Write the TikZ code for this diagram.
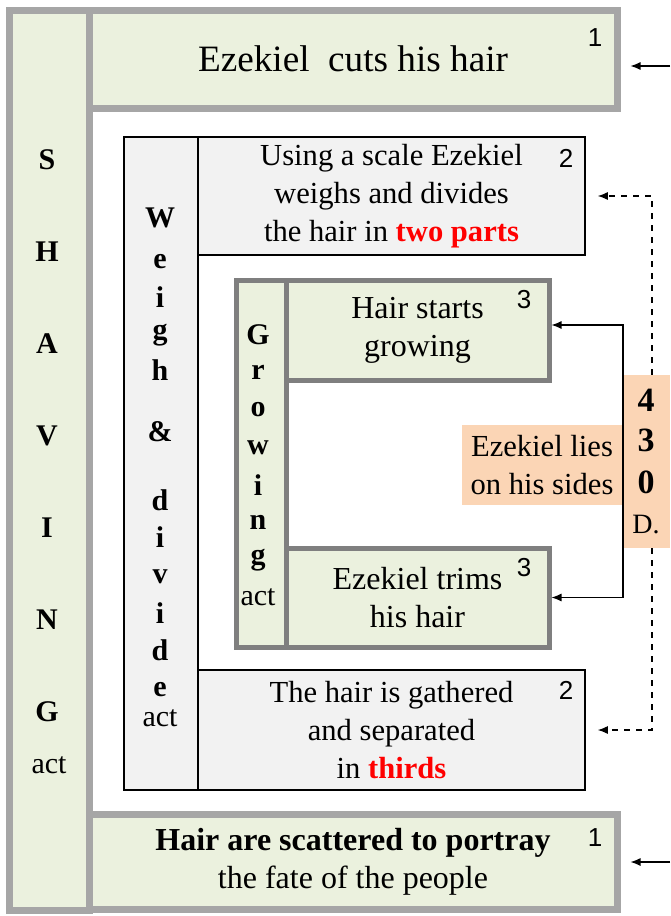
\documentclass[tikz,border=0pt]{standalone}
\usepackage{fontspec}
\setmainfont{Liberation Serif}
\newfontfamily\numfont{Liberation Sans}
\usetikzlibrary{arrows.meta}

\definecolor{actgreen}{HTML}{EBF1DE}
\definecolor{actgray}{HTML}{A6A6A6}
\definecolor{growgray}{HTML}{7F7F7F}
\definecolor{boxgray}{HTML}{F2F2F2}
\definecolor{peach}{HTML}{FBD5B5}
\definecolor{hot}{HTML}{FF0000}

\tikzset{
  outerbox/.style={draw=actgray, fill=actgreen, line width=3.5pt, inner sep=0pt, align=center},
  growbox/.style={draw=growgray, fill=actgreen, line width=2.5pt, inner sep=0pt, align=center},
  weighbox/.style={draw=black, fill=boxgray, line width=0.8pt, inner sep=0pt, align=center},
  txt/.style={font=\fontsize{15.3}{19}\selectfont},
  letter/.style={font=\fontsize{15}{16}\selectfont\bfseries, inner sep=0pt},
  actlbl/.style={font=\fontsize{15}{16}\selectfont, inner sep=0pt},
  num/.style={font=\numfont\fontsize{13}{15}\selectfont, inner sep=0pt},
  arw/.style={-{Latex[length=5pt,width=4pt]}, line width=0.6pt},
  dasharw/.style={arw, dashed}
}

\begin{document}
\begin{tikzpicture}[x=0.5pt,y=-0.5pt]
        \useasboundingbox (0,0) rectangle (670,916);
        % shaving act
        \draw (49,460) node[outerbox, minimum width=40pt, minimum height=450pt](shave) {};
        \draw (353,59) node[outerbox, txt, minimum width=264pt, minimum height=49pt,
            font=\fontsize{18.6}{20}\selectfont](cut) {Ezekiel\ \ cuts his hair};
        \draw (353,862) node[outerbox, txt, minimum width=264pt, minimum height=47.5pt,
            font=\fontsize{16}{19}\selectfont](scatter)
            {\textbf{Hair are scattered to portray}\\the fate of the people};
        \foreach \l [count=\i] in {S,H,A,V,I,N,G}
            \draw (47,{160+92*(\i-1)}) node[letter](shv\i) {\l};
        \draw (49,765) node[actlbl](shvact) {act};
        % weigh & divide act
        \draw (161,463.5) node[weighbox, minimum width=37pt, minimum height=326.5pt](weigh) {};
        \draw (391.5,196) node[weighbox, txt, minimum width=193.5pt, minimum height=59pt](two)
            {Using a scale Ezekiel\\weighs and divides\\the hair in \textcolor{hot}{\textbf{two parts}}};
        \draw (391.5,730) node[weighbox, txt, minimum width=193.5pt, minimum height=60pt](thirds)
            {The hair is gathered\\and separated\\in \textcolor{hot}{\textbf{thirds}}};
        \foreach \l/\y [count=\i] in {W/218,e/262,i/297,g/335,h/370,\&/432,d/500,i/537,v/577,i/613,d/650,e/690}
            \draw (160,\y) node[letter](wgh\i) {\l};
        \draw (160,718) node[actlbl](wghact) {act};
        % growing act
        \draw (261,463.5) node[growbox, minimum width=25pt, minimum height=183.5pt](grow) {};
        \draw (417.5,330) node[growbox, txt, minimum width=131.5pt, minimum height=50pt,
            font=\fontsize{16}{19}\selectfont](starts) {Hair starts\\growing};
        \draw (417.5,597.5) node[growbox, txt, minimum width=131.5pt, minimum height=49.5pt,
            font=\fontsize{16}{19}\selectfont](trims) {Ezekiel trims\\his hair};
        \foreach \l [count=\i] in {G,r,o,w,i,n,g}
            \draw (258,{335+37.5*(\i-1)}) node[letter](grw\i) {\l};
        \draw (258,597) node[actlbl](grwact) {act};
        % step numbers
        \draw (595,38) node[num](n1a) {1};
        \draw (595,838) node[num](n1b) {1};
        \draw (566,158) node[num](n2a) {2};
        \draw (566,690) node[num](n2b) {2};
        \draw (524,300) node[num](n3a) {3};
        \draw (524,568) node[num](n3b) {3};
        % 430 days
        \draw (542,465) node[fill=peach, txt, align=center, inner sep=0pt, minimum width=80pt, minimum height=40pt](lies)
            {Ezekiel lies\\on his sides};
        \draw (646,461.5) node[fill=peach, align=center, inner sep=0pt, minimum width=24pt, minimum height=86.5pt,
            font=\fontsize{17}{20.5}\selectfont](days) {\textbf{4}\\\textbf{3}\\\textbf{0}\\{\fontsize{14}{16}\selectfont D.}};
        \coordinate (bend) at (623,461);
        \draw[arw] (bend) |- ([yshift=2.5pt]starts.east);
        \draw[arw] (bend) |- (trims.east);
        \draw[dasharw] ([xshift=3pt]days.north) |- ([xshift=6pt]two.east);
        \draw[dasharw] ([xshift=3pt]days.south) |- ([xshift=6pt]thirds.east);
        % incoming arrows
        \coordinate (cutin) at (670,66);
        \coordinate (scatin) at (670,862);
        \draw[arw] (cutin) -- ([xshift=5pt]cut.east |- cutin);
        \draw[arw] (scatin) -- ([xshift=5pt]scatter.east |- scatin);
\end{tikzpicture}
\end{document}
